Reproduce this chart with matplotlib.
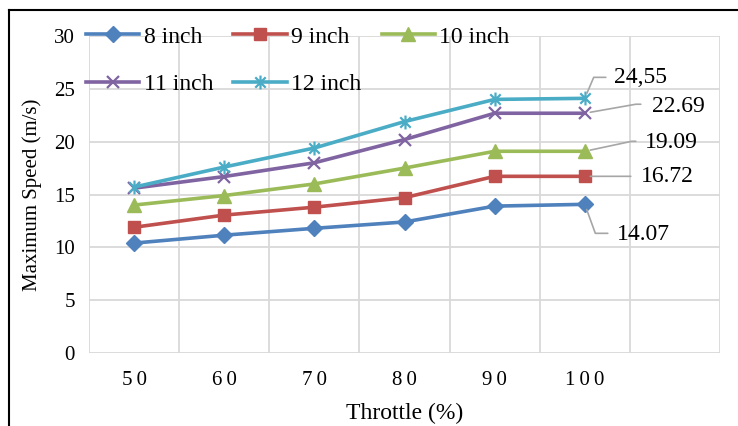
import matplotlib.pyplot as plt
from matplotlib.path import Path
from matplotlib.lines import Line2D

plt.rcParams["font.family"] = ["Liberation Serif", "DejaVu Serif"]

throttle = ["50", "60", "70", "80", "90", "100"]
speed_8 = [10.4, 11.15, 11.8, 12.4, 13.9, 14.07]
speed_9 = [11.9, 13.05, 13.8, 14.7, 16.72, 16.72]
speed_10 = [14.0, 14.9, 16.0, 17.5, 19.09, 19.09]
speed_11 = [15.6, 16.7, 18.0, 20.2, 22.69, 22.69]
speed_12 = [15.7, 17.6, 19.4, 21.9, 24.0, 24.1]
labels = ["8 inch", "9 inch", "10 inch", "11 inch", "12 inch"]
end_labels = ["14.07", "16.72", "19.09", "22.69", "24,55"]

colors = ["#4F81BD", "#C0504D", "#9BBB59", "#8064A2", "#4BACC6"]

# Excel style "star": x with a vertical bar
star = Path(
    [(0, -1), (0, 1), (-0.75, -0.75), (0.75, 0.75), (-0.75, 0.75), (0.75, -0.75)],
    [Path.MOVETO, Path.LINETO, Path.MOVETO, Path.LINETO, Path.MOVETO, Path.LINETO],
)
markers = ["D", "s", "^", "x", star]
msizes = [8, 9, 10, 9, 10]

fig = plt.figure(figsize=(7.38, 4.26), dpi=100)
W, H = 738, 426
ax = fig.add_axes([89 / W, 1 - 353 / H, (720 - 89) / W, (353 - 36) / H])

xpos = [i + 0.5 for i in range(len(throttle))]
series = [speed_8, speed_9, speed_10, speed_11, speed_12]
handles = []
for vals, c, m, ms, lab in zip(series, colors, markers, msizes, labels):
    h, = ax.plot(xpos, vals, color=c, lw=2.6, marker=m, markersize=ms,
                 markeredgewidth=1.6 if (m == "x" or m is star) else 1,
                 markerfacecolor=c, markeredgecolor=c, label=lab)
    handles.append(h)

ax.set_xlim(0, 7)
ax.set_ylim(0, 30)
ax.set_yticks(range(0, 31, 5))
ax.set_xticks(xpos)
ax.set_xticklabels(["\u2009".join(t) for t in throttle], fontsize=15)
ax.tick_params(axis="y", labelsize=15, length=0, pad=10)
ax.tick_params(axis="x", length=0, pad=13)
for x in range(8):
    ax.axvline(x, color="#D9D9D9", lw=1.3, zorder=0)
for y in range(0, 31, 5):
    ax.axhline(y, color="#D9D9D9", lw=1.3, zorder=0)
for s in ax.spines.values():
    s.set_visible(False)

ax.set_xlabel("Throttle (%)", fontsize=17, labelpad=9)
ax.set_ylabel("Maximum Speed (m/s)", fontsize=15, labelpad=9)

# row-major order: 8, 9, 10 on top; 11, 12 below
order = [0, 3, 1, 4, 2]
ax.legend([handles[i] for i in order], [labels[i] for i in order],
          ncol=3, loc="upper left", bbox_to_anchor=(86 / W, 1 - 26 / H),
          bbox_transform=fig.transFigure, frameon=False, fontsize=17,
          handlelength=2.25, handletextpad=0.2, columnspacing=0.85,
          labelspacing=1.1, borderpad=0, borderaxespad=0)

# data labels with leader lines (pixel offsets from the last point)
leaders = [
    ((23, -29), (32, -30), "angle,angleA=0,angleB=-70"),
    ((46, 0), (56, 0), None),
    ((51, 10), (60, 9), "angle,angleA=0,angleB=12"),
    ((56, 9), (67, 7), "angle,angleA=0,angleB=10"),
    ((21, 21), (29, 21), "angle,angleA=0,angleB=67"),
]
for vals, txt, (lend, tpos, cs) in zip(series, end_labels, leaders):
    xy = (xpos[-1], vals[-1])
    props = dict(arrowstyle="-", color="#A6A6A6", lw=1.2, shrinkA=0, shrinkB=4)
    if cs:
        props["connectionstyle"] = cs
    ax.annotate("", xy=xy, xytext=lend, textcoords="offset pixels", arrowprops=props)
    ax.annotate(txt, xy=xy, xytext=tpos, textcoords="offset pixels",
                ha="left", va="center", fontsize=17)

fig.add_artist(Line2D([9 / W, 1], [1 - 10 / H, 1 - 10 / H], color="black", lw=1.5))
fig.add_artist(Line2D([9 / W, 9 / W], [0, 1 - 10 / H], color="black", lw=1.5))

fig.savefig("out.png", dpi=100)
